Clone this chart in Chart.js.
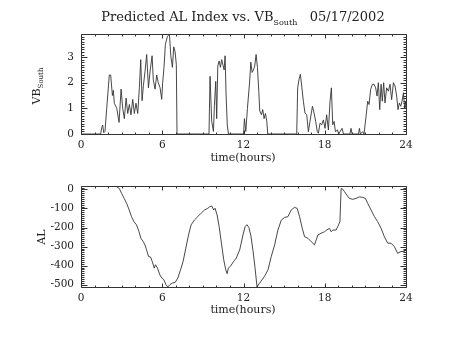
<!DOCTYPE html>
<html lang="en">
<head>
  <meta charset="UTF-8" />
  <title>Predicted AL Index vs. VB South 05/17/2002</title>
  <script src="https://cdn.jsdelivr.net/npm/chart.js"></script>
  <style>
    body {
      margin: 0;
      background: #fff;
    }
    #wrap {
      position: relative;
      width: 453px;
      height: 340px;
      font-family: "DejaVu Serif", serif;
      color: #222;
    }
    canvas {
      position: absolute;
      left: 0;
      top: 0;
    }
    .lbl {
      position: absolute;
      white-space: nowrap;
      font-size: 11px;
      line-height: 1;
      transform: translate(-50%, -50%);
    }
    .rot {
      transform: translate(-50%, -50%) rotate(-90deg);
    }
    .lbl sub {
      font-size: 7px;
      vertical-align: -3px;
    }
    #title {
      font-size: 13px;
    }
    #title sub {
      font-size: 8px;
      vertical-align: -4px;
    }
  </style>
</head>
<body>
  <div id="wrap">
    <canvas id="vbChart" width="453" height="340"></canvas>
    <canvas id="alChart" width="453" height="340"></canvas>
    <div class="lbl" id="title" style="left:243px; top:18px;">Predicted AL Index vs. VB<sub>South</sub>&nbsp;&nbsp;&nbsp;05/17/2002</div>
    <div class="lbl" style="left:243px; top:157px;">time(hours)</div>
    <div class="lbl" style="left:243px; top:309px;">time(hours)</div>
    <div class="lbl rot" style="left:38px; top:86px;">VB<sub>South</sub></div>
    <div class="lbl rot" style="left:41px; top:237px;">AL</div>
  </div>

  <script>
    // VB south, hours of 05/17/2002
    const vbHours = [0, 1.45, 1.53, 1.60, 1.68, 1.77, 1.90, 2.09, 2.19, 2.32, 2.39, 2.46, 2.64, 2.81, 2.96,
      3.08, 3.20, 3.33, 3.45, 3.57, 3.69, 3.82, 3.94, 4.06, 4.19, 4.31, 4.41, 4.51, 4.61, 4.73, 4.85,
      4.98, 5.10, 5.25, 5.34, 5.47, 5.59, 5.71, 5.84, 5.96, 6.03, 6.13, 6.23, 6.38, 6.53, 6.63, 6.75,
      6.85, 6.95, 7.04, 7.09,
      9.45, 9.53, 9.65, 9.78, 9.85, 9.95, 10.02, 10.10, 10.20, 10.30, 10.39, 10.48, 10.57, 10.64, 10.71,
      10.80, 10.89,
      12.00, 12.07, 12.17, 12.29, 12.44, 12.54, 12.64, 12.73, 12.83, 12.93, 13.03, 13.13, 13.20, 13.33,
      13.42, 13.52, 13.62, 13.72, 13.79,
      15.93, 16.00, 16.10, 16.20, 16.30, 16.42, 16.54, 16.67, 16.79, 16.91, 17.09, 17.21, 17.33, 17.45,
      17.53, 17.65, 17.77, 17.90, 18.02, 18.14, 18.27, 18.39, 18.49, 18.59, 18.69, 18.79, 18.94, 19.03,
      19.28, 19.38, 19.86, 19.94, 20.02, 20.49, 20.56, 20.63, 20.80, 20.90, 21.05, 21.17, 21.27, 21.39,
      21.52, 21.64, 21.76, 21.86, 21.96, 22.06, 22.16, 22.25, 22.35, 22.45, 22.57, 22.70, 22.82, 22.94,
      23.07, 23.19, 23.31, 23.41, 23.51, 23.61, 23.71, 23.81, 23.90, 23.98, 24.00];
    const vbValues = [0, 0, 0.25, 0.35, 0.05, 0.1, 1.0, 2.3, 2.3, 1.5, 1.7, 1.2, 1.0, 0.45, 1.75,
      1.0, 0.6, 1.4, 0.8, 1.15, 0.75, 1.35, 0.8, 1.2, 0.8, 1.8, 2.9, 1.3, 1.9, 2.45, 3.1,
      1.8, 2.45, 3.05, 2.1, 1.75, 2.3, 2.0, 1.8, 1.35, 2.0, 2.6, 3.5, 3.8, 3.9, 3.05, 2.6,
      3.4, 3.2, 2.7, 0,
      0, 2.25, 0.5, 0.1, 1.1, 2.05, 0.6, 2.65, 2.85, 2.6, 2.9, 2.7, 2.5, 3.05, 1.6,
      0.35, 0,
      0, 0.6, 0.1, 1.0, 1.95, 2.8, 2.4, 2.5, 2.65, 3.1, 2.6, 1.65, 0.9, 0.75,
      0.95, 0.6, 0.8, 0.5, 0,
      0, 1.8, 2.13, 2.33, 1.87, 1.28, 0.82, 0.75, 0.09, 0.49, 1.08, 0.82, 0.49, 0.09,
      0.03, 0.42, 0.36, 0.55, 0.22, 0.75, 0.16, 1.28, 1.8, 0.36, 0.49, 0.09, 0.16, 0,
      0.22, 0, 0, 0.22, 0, 0, 0.22, 0, 0.09, 0, 0.69, 1.28, 1.15, 1.74,
      1.94, 1.94, 1.8, 1.48, 2.0, 0.95, 1.94, 1.28, 2.0, 1.21, 1.8, 1.67, 1.94, 1.34,
      2.0, 1.87, 1.48, 0.95, 1.21, 1.08, 1.28, 1.61, 1.01, 1.28, 1.0];

    // predicted AL index (nT)
    const alHours = [2.55, 2.83, 3.00, 3.19, 3.37, 3.56, 3.73, 3.91, 4.10, 4.28, 4.42, 4.59, 4.72, 4.84,
      4.99, 5.14, 5.26, 5.41, 5.50, 5.65, 5.82, 5.97, 6.12, 6.27, 6.41, 6.56, 6.76, 6.95, 7.15, 7.35,
      7.54, 7.74, 7.94, 8.13, 8.38, 8.62, 8.87, 9.12, 9.36, 9.51, 9.66, 9.80, 9.90, 10.05, 10.20, 10.37,
      10.54, 10.69, 10.79, 10.88, 11.03, 11.25, 11.47, 11.72, 11.96, 12.12, 12.25, 12.40, 12.55, 12.70,
      12.85, 13.00, 13.15, 13.31, 13.56, 13.81, 14.05, 14.30, 14.54, 14.79, 15.03, 15.28, 15.52, 15.77,
      15.97, 16.14, 16.34, 16.51, 16.75, 17.00, 17.24, 17.37, 17.49, 17.73, 17.98, 18.15, 18.35, 18.47,
      18.60, 18.84, 18.96, 19.12, 19.21, 19.33, 19.46, 19.63, 19.82, 20.07, 20.31, 20.56, 20.81, 21.00,
      21.17, 21.42, 21.67, 21.91, 22.16, 22.40, 22.65, 22.89, 23.14, 23.38, 23.63, 23.87, 24.00];
    const alValues = [18, 5, -21, -47, -73, -108, -143, -169, -186, -221, -256, -273, -291, -317,
      -352, -355, -378, -413, -395, -413, -448, -465, -474, -500, -512, -500, -491, -488, -465, -422,
      -378, -308, -239, -186, -160, -143, -125, -108, -99, -91, -87, -108, -99, -134, -195, -282,
      -369, -422, -442, -413, -404, -380, -360, -317, -239, -195, -185, -200, -245, -320,
      -410, -512, -495, -480, -455, -422, -352, -291, -213, -161, -147, -143, -108, -94,
      -100, -143, -204, -248, -256, -274, -291, -265, -239, -230, -222, -213, -204, -222,
      -213, -213, -195, -169, 5, 1, -12, -30, -47, -52, -47, -39, -42, -47,
      -73, -108, -143, -169, -204, -248, -282, -282, -300, -335, -326, -326, -317];

    const hourTicks = [0, 6, 12, 18, 24];
    const tickFont = { family: 'DejaVu Serif', size: 10.5 };
    const ink = '#222';

    // IDL style box: frame plus inward major/minor ticks on all four sides
    function boxPlugin(yFrom, yTo, yMinor, yMajor) {
      return {
        id: 'box',
        afterDraw(chart) {
          const { ctx, chartArea: a, scales: { x, y } } = chart;
          const L = Math.round(a.left) + 0.5, R = Math.round(a.right) + 0.5;
          const T = Math.round(a.top) + 0.5, B = Math.round(a.bottom) + 0.5;
          ctx.save();
          ctx.strokeStyle = '#333';
          ctx.lineWidth = 1;
          ctx.beginPath();
          ctx.rect(L, T, R - L, B - T);
          for (let i = 0; i <= 24; i++) {
            const px = Math.round(x.getPixelForValue(i)) + 0.5;
            const len = i % 6 === 0 ? 4 : 2;
            ctx.moveTo(px, B); ctx.lineTo(px, B - len);
            ctx.moveTo(px, T); ctx.lineTo(px, T + len);
          }
          const n = Math.round((yTo - yFrom) / yMinor);
          for (let i = 0; i <= n; i++) {
            const v = yFrom + i * yMinor;
            const r = v / yMajor;
            const major = Math.abs(r - Math.round(r)) < 1e-6;
            const py = Math.round(y.getPixelForValue(v)) + 0.5;
            const len = major ? 6 : 3;
            ctx.moveTo(L, py); ctx.lineTo(L + len, py);
            ctx.moveTo(R, py); ctx.lineTo(R - len, py);
          }
          ctx.stroke();
          ctx.restore();
        }
      };
    }

    function makeChart(id, hours, values, yMin, yMax, yStep, pad, box) {
      const pts = hours.map((h, i) => ({ x: h, y: values[i] }));
      return new Chart(document.getElementById(id), {
        type: 'scatter',
        data: {
          datasets: [{
            data: pts,
            showLine: true,
            borderColor: '#333',
            borderWidth: 0.9,
            pointRadius: 0,
            tension: 0
          }]
        },
        options: {
          responsive: false,
          animation: false,
          events: [],
          layout: { padding: pad },
          plugins: {
            legend: { display: false },
            tooltip: { enabled: false }
          },
          scales: {
            x: {
              type: 'linear',
              min: 0,
              max: 24,
              afterBuildTicks: s => { s.ticks = hourTicks.map(v => ({ value: v })); },
              ticks: { font: tickFont, color: ink, padding: 5, maxRotation: 0, autoSkip: false },
              grid: { display: false, drawTicks: false },
              border: { display: false },
              afterFit: s => { s.height = 30; }
            },
            y: {
              min: yMin,
              max: yMax,
              ticks: {
                stepSize: yStep,
                includeBounds: false,
                font: tickFont,
                color: ink,
                padding: 7
              },
              grid: { display: false, drawTicks: false },
              border: { display: false },
              afterFit: s => { s.width = 40; }
            }
          }
        },
        plugins: [box]
      });
    }

    makeChart('vbChart', vbHours, vbValues, 0, 3.9, 1,
      { left: 41, right: 47, top: 34, bottom: 176 },
      boxPlugin(0, 3.9, 0.1, 1));

    makeChart('alChart', alHours, alValues, -512, 18, 100,
      { left: 41, right: 47, top: 186, bottom: 23 },
      boxPlugin(-510, 10, 10, 100));
  </script>
</body>
</html>
